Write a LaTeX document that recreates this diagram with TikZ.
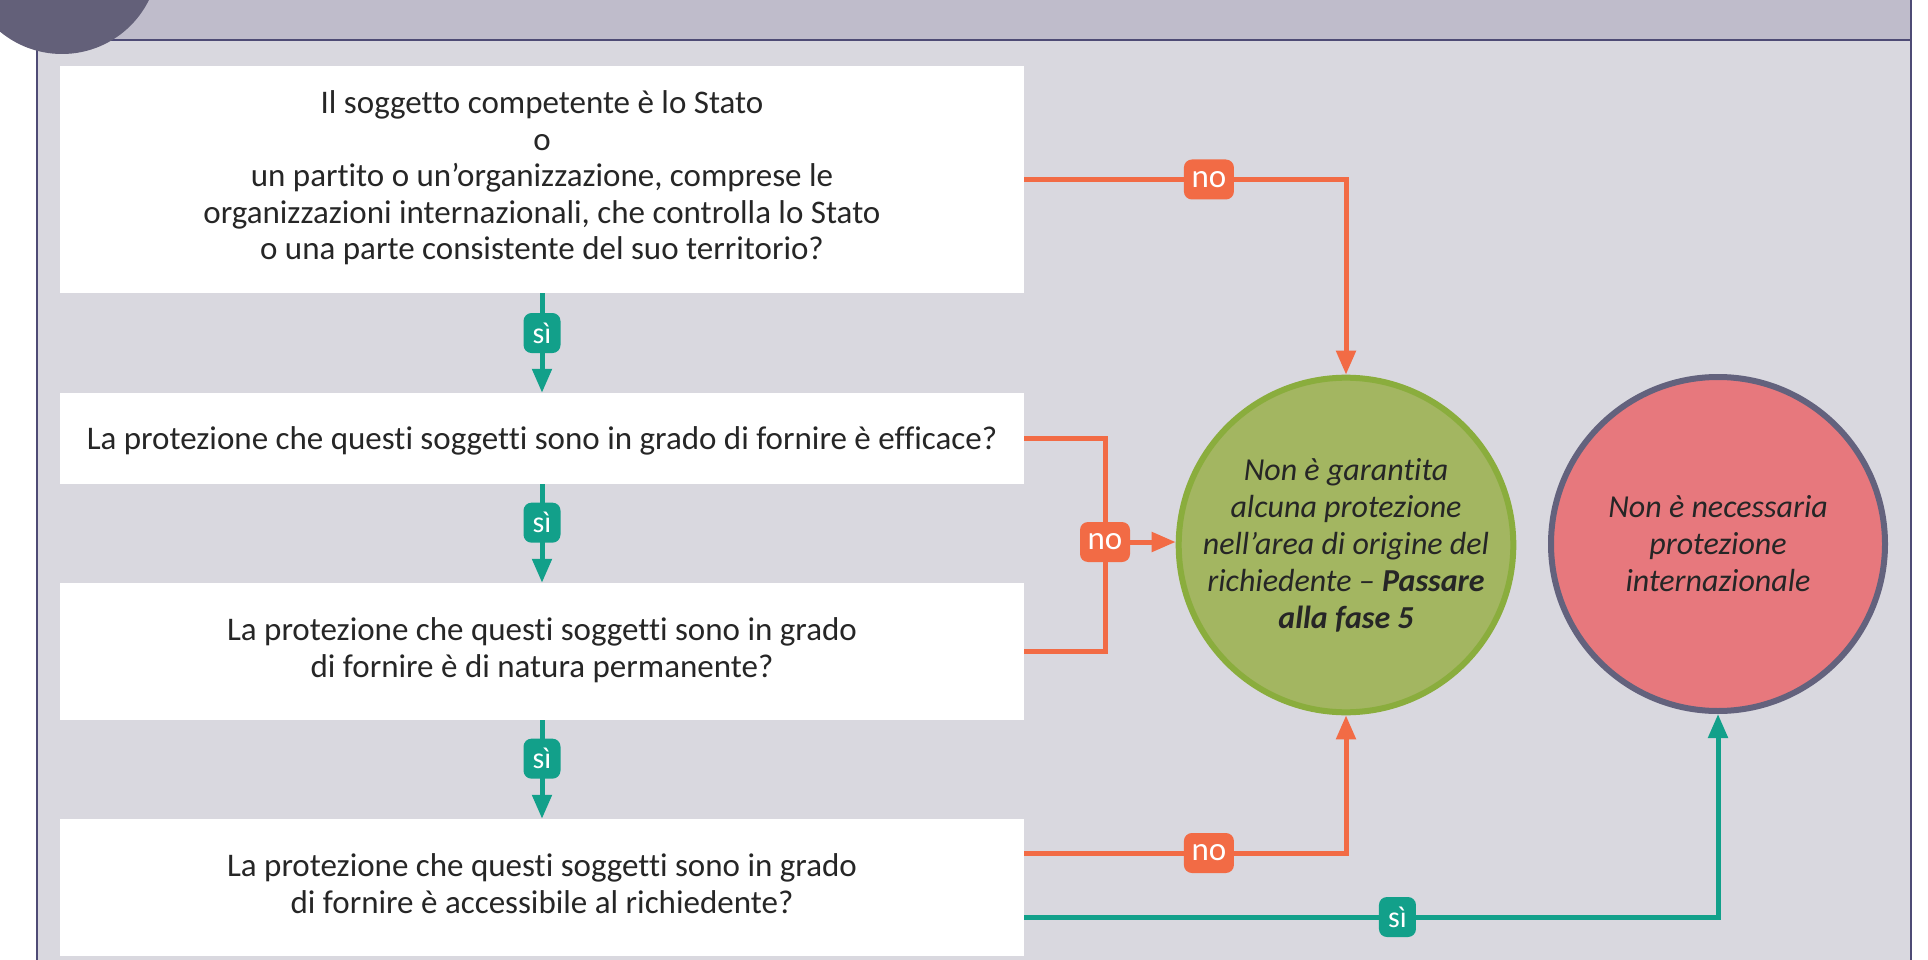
\documentclass[tikz,border=0pt]{standalone}
\usepackage{fontspec}
\setmainfont{Carlito}[Ligatures=NoCommon]
\usetikzlibrary{arrows.meta,calc}
\definecolor{hdr}{HTML}{BFBCCB}
\definecolor{bodybg}{HTML}{D9D8DF}
\definecolor{framec}{HTML}{4E4B75}
\definecolor{disc}{HTML}{636079}
\definecolor{orng}{HTML}{F26B45}
\definecolor{tealc}{HTML}{12A08A}
\definecolor{gfill}{HTML}{A3B661}
\definecolor{gline}{HTML}{8AAD3D}
\definecolor{rfill}{HTML}{E7787D}
\definecolor{rline}{HTML}{63627D}
\definecolor{txt}{HTML}{262626}
\begin{document}
\begin{tikzpicture}[x=1pt,y=-1pt,
  qbox/.style={fill=white, minimum width=964pt, inner sep=0pt, align=center, text=txt, font=\fontsize{33}{36.5}\selectfont,
    execute at begin node={\rule{0pt}{30pt}}, execute at end node={\rule[-8pt]{0pt}{0pt}}},
  endc/.style={circle, minimum size=334pt, line width=6pt, inner sep=0pt, align=center, text=txt, font=\fontsize{32}{37}\selectfont\itshape},
  noline/.style={draw=orng, line width=5pt},
  yesline/.style={draw=tealc, line width=5pt},
  tip/.style={-{Triangle[length=24pt,width=19pt]}},
  nolbl/.style={fill=orng, text=white, rounded corners=8pt, minimum width=50pt, minimum height=40pt, inner sep=0pt, font=\fontsize{33}{33}\selectfont},
  yeslbl/.style={fill=tealc, text=white, rounded corners=8pt, minimum width=37pt, minimum height=40pt, inner sep=0pt, font=\fontsize{30}{30}\selectfont},
]
\clip (0,0) rectangle (1928,960);
\fill[white] (0,0) rectangle (1928,960);
% frame
\fill[hdr] (37,0) rectangle (1911,40);
\fill[bodybg] (37,40) rectangle (1911,960);
\draw[framec, line width=2pt] (37,40) -- (1911,40);
\draw[framec, line width=2.5pt] (37,0) -- (37,960);
\draw[framec, line width=2.5pt] (1911,0) -- (1911,960);
\fill[disc] (62,-43) circle[radius=97pt];

% question boxes
\node[qbox, minimum height=227pt] (b1) at (542,179.5)
  {Il soggetto competente è lo Stato\\ o\\ un partito o un’organizzazione, comprese le\\ organizzazioni internazionali, che controlla lo Stato\\ o una parte consistente del suo territorio?};
\node[qbox, minimum height=91pt] (b2) at (542,438.5)
  {La protezione che questi soggetti sono in grado di fornire è efficace?};
\node[qbox, minimum height=137pt] (b3) at (542,651.5)
  {La protezione che questi soggetti sono in grado\\ di fornire è di natura permanente?};
\node[qbox, minimum height=137pt] (b4) at (542,887.5)
  {La protezione che questi soggetti sono in grado\\ di fornire è accessibile al richiedente?};

% outcome circles
\node[endc, fill=gfill, draw=gline] (green) at (1346,545)
  {Non è garantita\\ alcuna protezione\\ nell’area di origine del\\ richiedente – \textbf{Passare}\\ \textbf{alla fase 5}};
\node[endc, fill=rfill, draw=rline] (red) at (1718,544)
  {Non è necessaria\\ protezione\\ internazionale};

% yes connectors down the left column
\draw[yesline, tip] (b1.south) -- node[yeslbl, pos=0.4] (y1) {sì} (b2.north);
\draw[yesline, tip] (b2.south) -- node[yeslbl, pos=0.39] (y2) {sì} (b3.north);
\draw[yesline, tip] (b3.south) -- node[yeslbl, pos=0.39] (y3) {sì} (b4.north);

% no connectors
\draw[noline, tip] (b1.east) -| node[nolbl, pos=0.287] (n1) {no} (green.north);
\coordinate (j) at (1105,542);
\draw[noline] (b2.east) -| (j) |- (b3.east);
\draw[noline, tip] (j) -- (j -| green.west);
\node[nolbl] (n2) at (j) {no};
\draw[noline, tip] ([yshift=34.5pt]b4.east) -| node[nolbl, pos=0.287] (n3) {no} (green.south);

% final yes
\draw[yesline, tip] ([yshift=-29.5pt]b4.east) -| node[yeslbl, pos=0.269] (y4) {sì} (red.south);
\end{tikzpicture}
\end{document}
